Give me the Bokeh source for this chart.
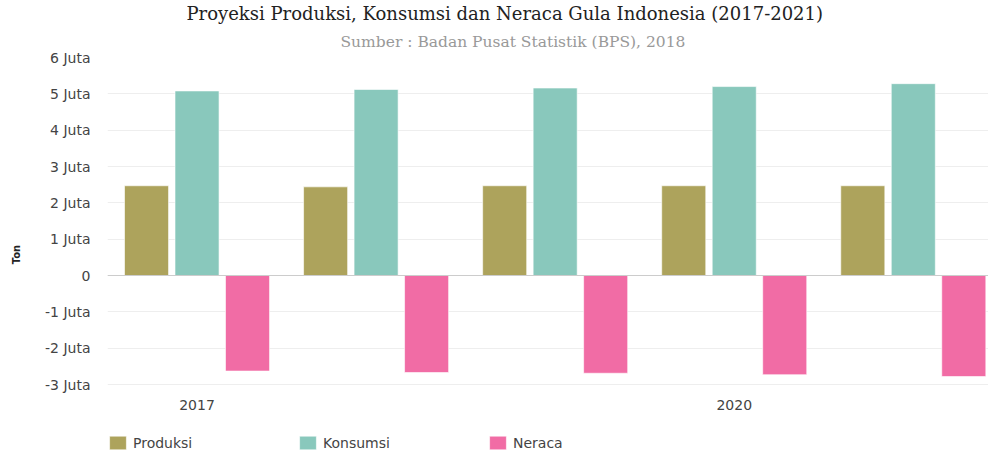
from bokeh.plotting import figure
from bokeh.models import (Range1d, FixedTicker, Legend, LegendItem, Title, ColumnDataSource)
from bokeh.transform import dodge
from bokeh.embed import file_html
from bokeh.resources import INLINE

years = [2017, 2018, 2019, 2020, 2021]
produksi = [2.47, 2.44, 2.47, 2.47, 2.47]
konsumsi = [5.08, 5.12, 5.16, 5.20, 5.28]
neraca = [-2.63, -2.67, -2.69, -2.73, -2.78]
series_names = ["Produksi", "Konsumsi", "Neraca"]
colors = ["#ada35c", "#89c8bc", "#f16ca5"]
y_ticks = [-3, -2, -1, 0, 1, 2, 3, 4, 5, 6]
y_labels = ["-3 Juta", "-2 Juta", "-1 Juta", "0", "1 Juta", "2 Juta", "3 Juta", "4 Juta", "5 Juta", "6 Juta"]
x_ticks = [2017, 2020]
x_labels = ["2017", "2020"]

src = ColumnDataSource(dict(year=years, Produksi=produksi, Konsumsi=konsumsi, Neraca=neraca))

# frame runs down to the bottom of the window so the legend can sit inside it
p = figure(frame_width=881, frame_height=394, output_backend="svg", toolbar_location=None,
           x_range=Range1d(2016.5, 2021.42), y_range=Range1d(-4.844, 6),
           min_border_left=0, min_border_right=0, min_border_top=0, min_border_bottom=0)
p.outline_line_color = None

offsets = [-0.282, 0.0, 0.282]
renderers = []
for name, col, off in zip(series_names, colors, offsets):
    r = p.vbar(x=dodge("year", off, range=None), top=name, bottom=0, width=0.246, source=src,
               fill_color=col, line_color="white", line_alpha=0.6, line_width=1)
    renderers.append(r)

# axes
p.yaxis.ticker = FixedTicker(ticks=y_ticks)
p.yaxis.major_label_overrides = {t: l for t, l in zip(y_ticks, y_labels)}
p.xaxis.ticker = FixedTicker(ticks=x_ticks)
p.xaxis.major_label_overrides = {t: l for t, l in zip(x_ticks, x_labels)}
p.xaxis.fixed_location = y_ticks[0]
for ax in (p.xaxis, p.yaxis):
    ax.axis_line_color = None
    ax.major_tick_line_color = None
    ax.minor_tick_line_color = None
    ax.major_tick_out = 0
    ax.major_tick_in = 0
    ax.minor_tick_out = 0
    ax.major_label_text_font = "DejaVu Sans"
    ax.major_label_text_font_size = "14px"
    ax.major_label_text_color = "#444444"
p.yaxis.major_label_standoff = 17
p.xaxis.major_label_standoff = 15
p.yaxis.axis_label = "Ton"
p.yaxis.axis_label_text_font = "DejaVu Sans"
p.yaxis.axis_label_text_font_size = "10px"
p.yaxis.axis_label_text_font_style = "bold"
p.yaxis.axis_label_text_color = "#222222"
p.yaxis.axis_label_standoff = 20

p.xgrid.grid_line_color = None
p.ygrid.ticker = FixedTicker(ticks=y_ticks)
p.ygrid.grid_line_color = "#eeeeee"
p.ygrid.grid_line_width = 1
p.hspan(y=[0], line_color="#cccccc", line_width=1)

# left spacer so the axis title sits a little in from the edge
p.add_layout(Title(text=" ", text_font_size="6px", standoff=0), "left")

# titles
sub = Title(text="Sumber : Badan Pusat Statistik (BPS), 2018", align="left", offset=233,
            text_font="DejaVu Serif", text_font_size="15.5px", text_font_style="normal",
            text_color="#999999", standoff=14)
main = Title(text="Proyeksi Produksi, Konsumsi dan Neraca Gula Indonesia (2017-2021)", align="left",
             offset=79, text_font="DejaVu Serif", text_font_size="18px", text_font_style="normal",
             text_color="#222222", standoff=0)
p.add_layout(sub, "above")
p.add_layout(main, "above")

legend = Legend(items=[LegendItem(label=n, renderers=[r]) for n, r in zip(series_names, renderers)],
                orientation="horizontal", location=(0, 0), border_line_color=None,
                background_fill_alpha=0, padding=0, margin=0, spacing=0,
                glyph_width=21, glyph_height=17, label_standoff=5, label_width=164,
                label_text_font="DejaVu Sans", label_text_font_size="14px", label_text_color="#444444")
p.add_layout(legend, "center")

open("out.html", "w").write(file_html(p, INLINE))
